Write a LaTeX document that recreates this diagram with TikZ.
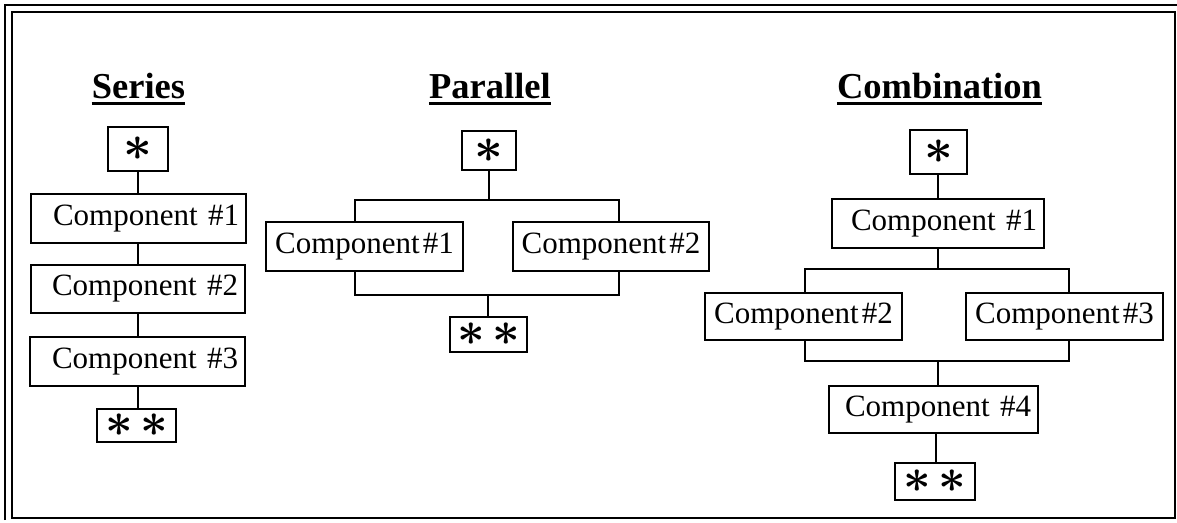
\documentclass[tikz,border=0pt]{standalone}
\usepackage{graphicx}
\usepackage{fontspec}
\setmainfont{Liberation Serif}
\newcommand{\oneast}{\scalebox{5}{\boldmath$\ast$}}
\newcommand{\twoast}{\scalebox{4.8}{\boldmath${\ast}\kern1.5pt{\ast}$}}
\begin{document}
\begin{tikzpicture}[x=1pt,y=-1pt,
  frame/.style={line width=2.4pt},
  boxline/.style={draw, line width=1.8pt, inner sep=0pt},
  conn/.style={line width=1.5pt},
  ttl/.style={inner sep=0pt, anchor=base, font=\fontsize{36.5}{36.5}\selectfont\bfseries},
  cmp/.style={boxline, font=\fontsize{31}{31}\selectfont},
  cmpr/.style={cmp, align=right, inner xsep=7pt, inner ysep=0pt},
  ast/.style={boxline}
]
\useasboundingbox (0,0) rectangle (1177,522);
% frame
\draw[frame] (12,12) rectangle (1175,518);
\draw[frame] (5,520) -- (5,5) -- (1177,5);

% ---------- titles ----------
\node[ttl] (tS) at (138.5,98) {Series};
\node[ttl] (tP) at (490,98) {Parallel};
\node[ttl] (tC) at (939.5,98) {Combination};
\foreach \t in {tS,tP,tC}
  \draw[line width=2.6pt] ([yshift=-5.5pt]\t.base west) -- ([yshift=-5.5pt]\t.base east);

% ---------- Series ----------
\node[ast, minimum width=60pt, minimum height=44pt] (ss) at (138,149) {\oneast};
\node[cmpr, text width=201pt, minimum height=49pt] (sc1) at (138.5,218.5) {Component \#1};
\node[cmpr, text width=200pt, minimum height=48pt] (sc2) at (138,289) {Component \#2};
\node[cmpr, text width=201pt, minimum height=49pt] (sc3) at (137.5,361.5) {Component \#3};
\node[ast, minimum width=79pt, minimum height=33pt] (sss) at (136.5,425.5) {\twoast};
\draw[conn] (ss.south -| 138,0) -- (sc1.north -| 138,0);
\draw[conn] (sc1.south -| 138,0) -- (sc2.north -| 138,0);
\draw[conn] (sc2.south -| 138,0) -- (sc3.north -| 138,0);
\draw[conn] (sc3.south -| 138,0) -- (sss.north -| 138,0);

% ---------- Parallel ----------
\node[ast, minimum width=54pt, minimum height=39pt] (ps) at (489,150.5) {\oneast};
\node[cmp, minimum width=197pt, minimum height=49pt] (pc1) at (364.5,246.5) {Component\kern3pt\#1};
\node[cmp, minimum width=196pt, minimum height=49pt] (pc2) at (611,246.5) {Component\kern3pt\#2};
\node[ast, minimum width=77pt, minimum height=35pt] (pss) at (488.5,334.5) {\twoast};
\coordinate (pT) at (489,200);
\coordinate (pTL) at (355,200);
\coordinate (pTR) at (619,200);
\coordinate (pB) at (488,295);
\coordinate (pBL) at (355,295);
\coordinate (pBR) at (619,295);
\draw[conn] (ps.south) -- (pT);
\draw[conn] (pc1.north -| pTL) -- (pTL) -- (pTR) -- (pc2.north -| pTR);
\draw[conn] (pc1.south -| pBL) -- (pBL) -- (pBR) -- (pc2.south -| pBR);
\draw[conn] (pB) -- (pss.north -| pB);

% ---------- Combination ----------
\node[ast, minimum width=57pt, minimum height=44pt] (cs) at (938.5,152) {\oneast};
\node[cmpr, text width=198pt, minimum height=49pt] (cc1) at (938,223.5) {Component \#1};
\node[cmp, minimum width=197pt, minimum height=47pt] (cc2) at (803.5,316.5) {Component\kern3pt\#2};
\node[cmp, minimum width=197pt, minimum height=47pt] (cc3) at (1064.5,316.5) {Component\kern3pt\#3};
\node[cmpr, text width=195pt, minimum height=47pt] (cc4) at (933.5,409.5) {Component \#4};
\node[ast, minimum width=80pt, minimum height=37pt] (css) at (935,481.5) {\twoast};
\coordinate (cT) at (938,269);
\coordinate (cTL) at (805,269);
\coordinate (cTR) at (1069,269);
\coordinate (cB) at (938,361);
\coordinate (cBL) at (805,361);
\coordinate (cBR) at (1069,361);
\draw[conn] (cs.south -| 938,0) -- (cc1.north -| 938,0);
\draw[conn] (cc1.south -| cT) -- (cT);
\draw[conn] (cc2.north -| cTL) -- (cTL) -- (cTR) -- (cc3.north -| cTR);
\draw[conn] (cc2.south -| cBL) -- (cBL) -- (cBR) -- (cc3.south -| cBR);
\draw[conn] (cB) -- (cc4.north -| cB);
\draw[conn] (cc4.south -| 936,0) -- (css.north -| 936,0);
\end{tikzpicture}
\end{document}
